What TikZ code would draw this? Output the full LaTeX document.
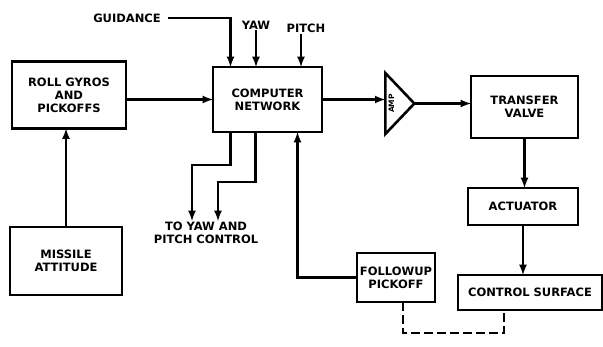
\documentclass[tikz,border=0pt]{standalone}
\usepackage{fontspec}
\setmainfont{DejaVu Sans}
\usetikzlibrary{arrows, shapes.geometric}

\begin{document}
\begin{tikzpicture}[x=1pt, y=-1pt, >=latex,
    blk/.style={draw, line width=2.8pt, inner sep=2pt, outer sep=0pt, align=center},
    lbl/.style={inner sep=1pt, align=center},
    font=\fontsize{11.5}{13}\selectfont\bfseries]
    \useasboundingbox (0,0) rectangle (603,346);
    % Bloecke
    \node[blk, minimum width=114pt, minimum height=67pt] (roll) at (69,95) {ROLL GYROS\\AND\\PICKOFFS};
    \node[blk, minimum width=109pt, minimum height=65pt] (comp) at (267.5,99.5) {COMPUTER\\NETWORK};
    \node[draw, line width=2.6pt, isosceles triangle, isosceles triangle stretches, minimum width=61pt, minimum height=29pt, inner sep=0pt, outer sep=0pt] (amp) at (397.5,103.5) {};
    \node[rotate=90, font=\fontsize{7.5}{8}\selectfont\bfseries] (amplbl) at ([xshift=-6pt]amp.center) {AMP};
    \node[blk, minimum width=107pt, minimum height=62pt] (trans) at (524.5,107) {TRANSFER\\VALVE};
    \node[blk, minimum width=110pt, minimum height=37pt] (act) at (523,206.5) {ACTUATOR};
    \node[blk, minimum width=144pt, minimum height=35pt] (cs) at (530,292.5) {CONTROL SURFACE};
    \node[blk, minimum width=78pt, minimum height=49pt] (fol) at (396,277.5) {FOLLOWUP\\PICKOFF};
    \node[blk, minimum width=112pt, minimum height=68pt] (att) at (66,261) {MISSILE\\ATTITUDE};
    % Texte
    \node[lbl] (guid) at (127,18) {GUIDANCE};
    \node[lbl] (yaw) at (256,25) {YAW};
    \node[lbl] (pitch) at (306,28) {PITCH};
    \node[lbl] (ctl) at (206,233) {TO YAW AND\\PITCH CONTROL};
    % Verbindungen
    \begin{scope}[line width=2.5pt]
        \draw[->] ([xshift=6pt]guid.east) -| ([xshift=-37pt]comp.north);
        \draw[->] (yaw.south) -- (yaw.south |- comp.north);
        \draw[->] ([xshift=-5pt]pitch.south) -- ([xshift=-5pt]pitch.south |- comp.north);
        \draw[->] (roll.east |- comp.west) -- (comp.west);
        \draw[->] (att.north) -- (att.north |- roll.south);
        \draw[->] (comp.east) -- (comp.east -| amp.west);
        \draw[->] (amp.east) -- (amp.east -| trans.west);
        \draw[->] (trans.south) -- (trans.south |- act.north);
        \draw[->] (act.south) -- (act.south |- cs.north);
        \draw[->] (fol.west) -| ([xshift=30pt]comp.south);
        \draw[->] ([xshift=-37pt]comp.south) -- ++(0,33) -| ([xshift=-14pt]ctl.north);
        \draw[->] ([xshift=-12pt]comp.south) -- ++(0,50) -| ([xshift=12pt]ctl.north);
        \draw[dash pattern=on 9pt off 4pt] ([xshift=7pt]fol.south) -- ++(0,31) -| ([xshift=-26pt]cs.south);
    \end{scope}
\end{tikzpicture}
\end{document}
